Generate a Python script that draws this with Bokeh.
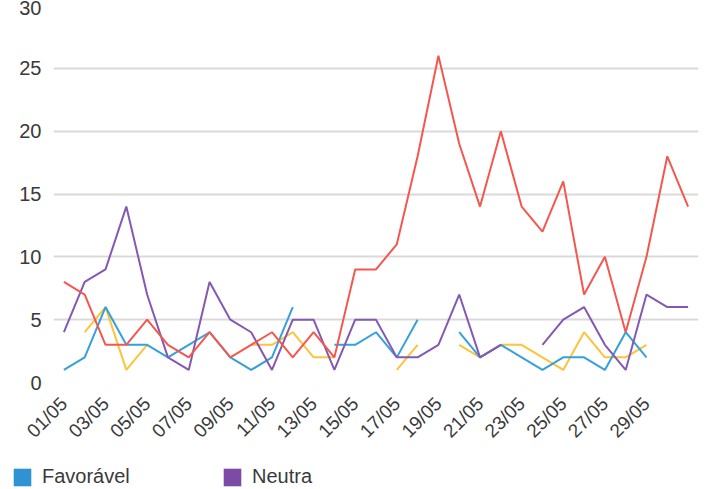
import math
from bokeh.plotting import figure
from bokeh.layouts import column
from bokeh.models import Range1d, Legend, LegendItem, FixedTicker, SingleIntervalTicker
from bokeh.embed import file_html
from bokeh.resources import INLINE

nan = float("nan")

days = ["01/05", "02/05", "03/05", "04/05", "05/05", "06/05", "07/05", "08/05",
        "09/05", "10/05", "11/05", "12/05", "13/05", "14/05", "15/05", "16/05",
        "17/05", "18/05", "19/05", "20/05", "21/05", "22/05", "23/05", "24/05",
        "25/05", "26/05", "27/05", "28/05", "29/05", "30/05", "31/05"]

tick_labels = ["01/05", "03/05", "05/05", "07/05", "09/05", "11/05", "13/05", "15/05",
               "17/05", "19/05", "21/05", "23/05", "25/05", "27/05", "29/05"]

favoravel = [1, 2, 6, 3, 3, 2, 3, 4, 2, 1, 2, 6, nan, 3, 3, 4,
             2, 5, nan, 4, 2, 3, 2, 1, 2, 2, 1, 4, 2, nan, nan]
neutra = [4, 8, 9, 14, 7, 2, 1, 8, 5, 4, 1, 5, 5, 1, 5, 5,
          2, 2, 3, 7, 2, 3, nan, 3, 5, 6, 3, 1, 7, 6, 6]
vermelha = [8, 7, 3, 3, 5, 3, 2, 4, 2, 3, 4, 2, 4, 2, 9, 9,
            11, 18, 26, 19, 14, 20, 14, 12, 16, 7, 10, 4, 10, 18, 14]
amarela = [nan, 4, 6, 1, 3, nan, nan, nan, nan, 3, 3, 4, 2, 2, nan, nan,
           1, 3, nan, 3, 2, 3, 3, 2, 1, 4, 2, 2, 3, nan, nan]

legend_labels = ["Favorável", "Neutra"]

c_blue = "#35a0dc"
c_purple = "#8558b2"
c_red = "#f5574f"
c_yellow = "#fcc43c"
legend_colors = ["#2f93d3", "#7b4ba6"]
text_col = "#3a3a3a"
font = "Liberation Sans"

# day index positions on the x scale (category centres)
xs = list(range(len(days)))

p = figure(x_range=Range1d(-0.5, len(days) - 0.5), y_range=Range1d(0, 30),
           width=713, height=455, output_backend="svg", toolbar_location=None,
           min_border_left=53, min_border_right=15, min_border_top=5, min_border_bottom=73)
p.outline_line_color = None
p.background_fill_color = "white"
p.border_fill_color = "white"

for series, col in [(amarela, c_yellow), (favoravel, c_blue), (neutra, c_purple), (vermelha, c_red)]:
    p.line(xs, series, line_color=col, line_width=2)

p.yaxis.ticker = SingleIntervalTicker(interval=5)
tick_pos = [days.index(t) for t in tick_labels]
p.xaxis.ticker = FixedTicker(ticks=tick_pos)
p.xaxis.major_label_overrides = {i: days[i] for i in tick_pos}

p.ygrid.grid_line_color = "#dadada"
p.ygrid.grid_line_width = 2
p.xgrid.grid_line_color = None

for ax in (p.xaxis, p.yaxis):
    ax.axis_line_color = None
    ax.major_tick_line_color = None
    ax.minor_tick_line_color = None
    ax.major_tick_out = 0
    ax.major_tick_in = 0
    ax.minor_tick_out = 0
    ax.major_label_text_font = font
    ax.major_label_text_color = text_col

p.yaxis.major_label_text_font_size = "20px"
p.yaxis.major_label_standoff = 12
p.xaxis.major_label_text_font_size = "19px"
p.xaxis.major_label_orientation = math.pi / 4
p.xaxis.major_label_standoff = 18

# legend strip below the chart
lf = figure(width=713, height=34, x_range=Range1d(0, 1), y_range=Range1d(0, 1),
            output_backend="svg", toolbar_location=None, x_axis_type=None, y_axis_type=None,
            min_border_left=0, min_border_right=0, min_border_top=0, min_border_bottom=0)
lf.frame_align = False
lf.outline_line_color = None
lf.xgrid.grid_line_color = None
lf.ygrid.grid_line_color = None
items = []
for lab, col in zip(legend_labels, legend_colors):
    r = lf.quad(left=[nan], right=[nan], top=[nan], bottom=[nan], fill_color=col, line_color=None)
    items.append(LegendItem(label=lab, renderers=[r]))

legend = Legend(items=items, location=(11, 1), orientation="horizontal",
                glyph_width=22, glyph_height=22, label_standoff=9, label_width=179,
                spacing=0, padding=0, margin=0,
                border_line_color=None, background_fill_alpha=0,
                label_text_font=font, label_text_font_size="20px",
                label_text_color=text_col)
lf.add_layout(legend, "center")

layout = column(p, lf, spacing=0)
open("out.html", "w").write(file_html(layout, INLINE))
